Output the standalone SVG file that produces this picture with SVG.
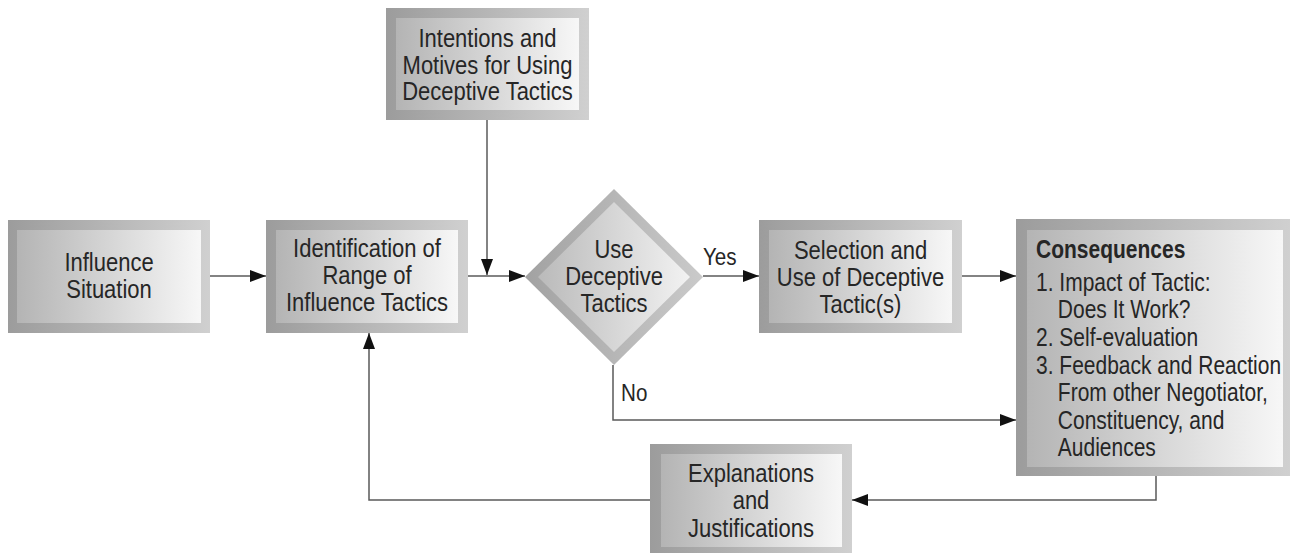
<svg xmlns="http://www.w3.org/2000/svg" width="1291" height="553" viewBox="0 0 1291 553">
<defs>
<linearGradient id="frame" x1="0" y1="0" x2="1" y2="0">
<stop offset="0" stop-color="#9c9c9c"/>
<stop offset="1" stop-color="#d0d0d0"/>
</linearGradient>
<linearGradient id="fill" x1="0" y1="0" x2="1" y2="0">
<stop offset="0" stop-color="#b4b4b4"/>
<stop offset="1" stop-color="#f7f7f7"/>
</linearGradient>
<linearGradient id="dframe" x1="0" y1="0" x2="1" y2="0">
<stop offset="0" stop-color="#a2a2a2"/>
<stop offset="1" stop-color="#cacaca"/>
</linearGradient>
<linearGradient id="dfill" x1="0" y1="0" x2="1" y2="0">
<stop offset="0" stop-color="#bababa"/>
<stop offset="1" stop-color="#f2f2f2"/>
</linearGradient>
<marker id="ah" markerUnits="userSpaceOnUse" markerWidth="17" markerHeight="12" refX="16" refY="6" orient="auto">
<path d="M0,0 L16,6 L0,12 Z" fill="#111"/>
</marker>
</defs>
<style>
.outer{fill:url(#frame)}
.inner{fill:url(#fill)}
.t{font-family:"Liberation Sans",Arial,sans-serif;font-size:25px;fill:#262626}
.c{text-anchor:middle}
.b{font-weight:bold}
.lbl{font-family:"Liberation Sans",Arial,sans-serif;font-size:24px;fill:#262626}
.conn{fill:none;stroke:#5a5a5a;stroke-width:1.5}
</style>

<g id="connectors">
<path class="conn" d="M210,276 H266" marker-end="url(#ah)"/>
<path class="conn" d="M468,276 H525" marker-end="url(#ah)"/>
<path class="conn" d="M487,120 V275" marker-end="url(#ah)"/>
<path class="conn" d="M703,276 H759" marker-end="url(#ah)"/>
<path class="conn" d="M962,276 H1016" marker-end="url(#ah)"/>
<path class="conn" d="M613,365 V420 H1016" marker-end="url(#ah)"/>
<path class="conn" d="M1156,476 V500 H852" marker-end="url(#ah)"/>
<path class="conn" d="M650,500 H369 V333" marker-end="url(#ah)"/>
<g transform="translate(703,0) scale(0.86,1)"><text class="lbl" x="0" y="265">Yes</text></g>
<g transform="translate(621,0) scale(0.86,1)"><text class="lbl" x="0" y="401">No</text></g>
</g>

<g id="influence-situation">
<rect class="outer" x="8" y="220" width="202" height="113"/>
<rect class="inner" x="17" y="230" width="184" height="93"/>
<g transform="translate(109,0) scale(0.88,1)">
<text class="t c"><tspan x="0" y="271">Influence</tspan><tspan x="0" y="298">Situation</tspan></text>
</g>
</g>

<g id="identification">
<rect class="outer" x="266" y="220" width="202" height="113"/>
<rect class="inner" x="276" y="230" width="182" height="93"/>
<g transform="translate(367,0) scale(0.88,1)">
<text class="t c"><tspan x="0" y="257">Identification of</tspan><tspan x="0" y="284">Range of</tspan><tspan x="0" y="311">Influence Tactics</tspan></text>
</g>
</g>

<g id="intentions">
<rect class="outer" x="386" y="8" width="203" height="112"/>
<rect class="inner" x="396" y="18" width="183" height="92"/>
<g transform="translate(487.5,0) scale(0.88,1)">
<text class="t c"><tspan x="0" y="47">Intentions and</tspan><tspan x="0" y="74">Motives for Using</tspan><tspan x="0" y="100">Deceptive Tactics</tspan></text>
</g>
</g>

<g id="decision">
<polygon points="525,277 614,189 703,277 614,365" fill="url(#dframe)"/>
<polygon points="538,277 614,202 690,277 614,352" fill="url(#dfill)"/>
<g transform="translate(614,0) scale(0.88,1)">
<text class="t c"><tspan x="0" y="258">Use</tspan><tspan x="0" y="285.5">Deceptive</tspan><tspan x="0" y="312.5">Tactics</tspan></text>
</g>
</g>

<g id="selection">
<rect class="outer" x="759" y="220" width="203" height="113"/>
<rect class="inner" x="769" y="230" width="183" height="93"/>
<g transform="translate(860.5,0) scale(0.88,1)">
<text class="t c"><tspan x="0" y="259">Selection and</tspan><tspan x="0" y="286">Use of Deceptive</tspan><tspan x="0" y="313">Tactic(s)</tspan></text>
</g>
</g>

<g id="consequences">
<rect class="outer" x="1016" y="219" width="274" height="257"/>
<rect class="inner" x="1027" y="230" width="256" height="237"/>
<g transform="translate(1036,0) scale(0.84,1)">
<text class="t b" x="0" y="258">Consequences</text>
<text class="t"><tspan x="0" y="291">1. Impact of Tactic:</tspan><tspan x="26" y="318.5">Does It Work?</tspan><tspan x="0" y="346">2. Self-evaluation</tspan><tspan x="0" y="374">3. Feedback and Reaction</tspan><tspan x="26" y="401.5">From other Negotiator,</tspan><tspan x="26" y="429">Constituency, and</tspan><tspan x="26" y="456.5">Audiences</tspan></text>
</g>
</g>

<g id="explanations">
<rect class="outer" x="650" y="444" width="202" height="112"/>
<rect class="inner" x="661" y="454" width="181" height="93"/>
<g transform="translate(751,0) scale(0.88,1)">
<text class="t c"><tspan x="0" y="482">Explanations</tspan><tspan x="0" y="509.5">and</tspan><tspan x="0" y="537">Justifications</tspan></text>
</g>
</g>
</svg>
